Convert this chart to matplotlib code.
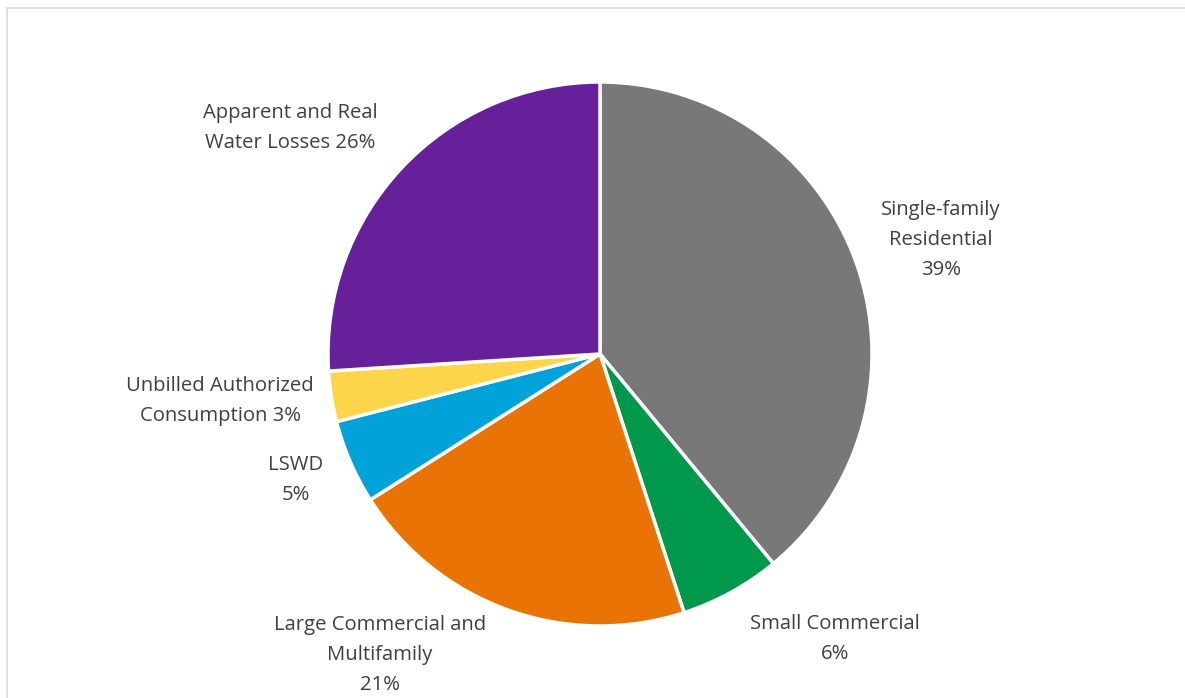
import matplotlib.pyplot as plt
from matplotlib.patches import Rectangle

# Water use shares (percent), clockwise from 12 o'clock
categorias = ["Single-family\nResidential", "Small Commercial", "Large Commercial and\nMultifamily",
              "LSWD", "Unbilled Authorized\nConsumption", "Apparent and Real\nWater Losses"]
valores = [39, 6, 21, 5, 3, 26]
cores = ["#787878", "#00994C", "#E97305", "#00A3D9", "#FDD54A", "#65209A"]

# Label text and where each one sits (pixel position in the figure)
rotulos = ["Single-family\nResidential\n39%", "Small Commercial\n6%",
           "Large Commercial and\nMultifamily\n21%", "LSWD\n5%",
           "Unbilled Authorized\nConsumption 3%", "Apparent and Real\nWater Losses 26%"]
pos_rotulos = [(941, 240), (835, 639), (380, 655), (296, 480), (220, 401), (290, 128)]

W, H = 1185, 698
cx, cy, R = 600, 354, 272

fig = plt.figure(figsize=(W / 100, H / 100), dpi=100)
ax = fig.add_axes([0, 0, 1, 1])

ax.pie(valores, colors=cores, startangle=90, counterclock=False, radius=1.0,
       wedgeprops=dict(edgecolor="white", linewidth=2.5))

# pie() resets the limits, so set them afterwards
ax.set_xlim(-cx / R, (W - cx) / R)
ax.set_ylim(-(H - cy) / R, cy / R)
ax.set_aspect("equal")
ax.axis("off")

for txt, (px, py) in zip(rotulos, pos_rotulos):
    ax.text((px - cx) / R, (cy - py) / R, txt, ha="center", va="center",
            fontsize=14.6, color="#404040", family="Open Sans", linespacing=1.68)

# chart-area frame (only top and left edges fall inside the image)
fig.patches.append(Rectangle((7 / W, -0.1), 1.2, (H - 8) / H + 0.1, transform=fig.transFigure,
                             fill=False, edgecolor="#D9D9D9", linewidth=1.2))

fig.savefig("out.png", dpi=100)
